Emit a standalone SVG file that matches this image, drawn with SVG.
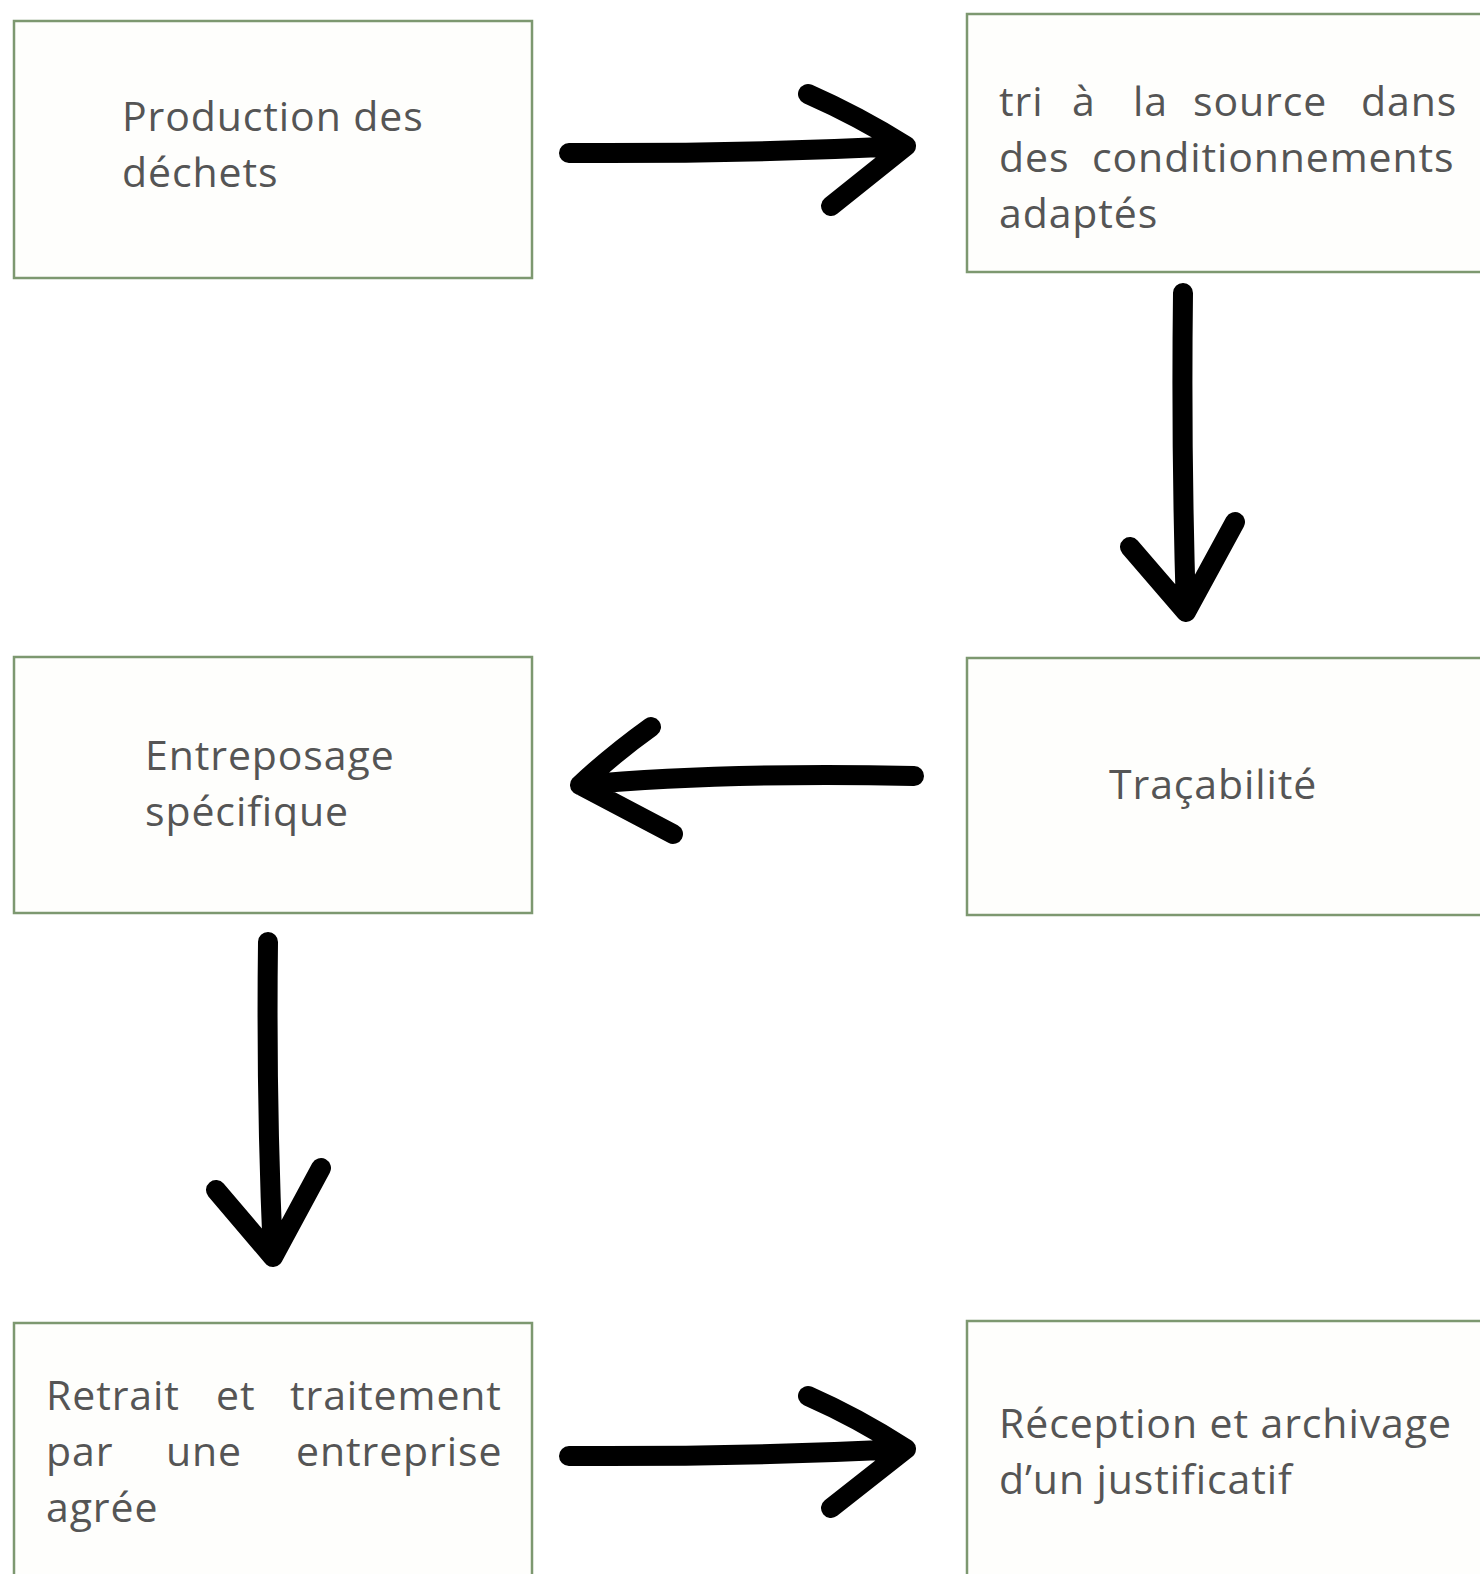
<svg xmlns="http://www.w3.org/2000/svg" width="1480" height="1574" viewBox="0 0 1480 1574">
<style>
.box{fill:#fefefc;stroke:#7d9870;stroke-width:2.5}
.t{font-family:"Open Sans","Noto Sans",sans-serif;font-size:41px;fill:#555555;letter-spacing:0.9px}
.arr{fill:none;stroke:#000;stroke-width:20;stroke-linecap:round;stroke-linejoin:round}
</style>
<rect width="1480" height="1574" fill="#ffffff"/>
<g id="n1">
<rect class="box" x="14" y="21" width="518" height="257"/>
<text class="t"><tspan x="122" y="131">Production des</tspan><tspan x="122" y="187">déchets</tspan></text>
</g>
<g id="n2">
<rect class="box" x="967" y="14" width="520" height="258"/>
<text class="t"><tspan x="999" y="116">tri</tspan><tspan x="1072" y="116">à</tspan><tspan x="1133" y="116">la</tspan><tspan x="1193" y="116">source</tspan><tspan x="1361" y="116">dans</tspan><tspan x="999" y="172">des</tspan><tspan x="1092" y="172">conditionnements</tspan><tspan x="999" y="228">adaptés</tspan></text>
</g>
<g id="n3">
<rect class="box" x="14" y="657" width="518" height="256"/>
<text class="t"><tspan x="145" y="770">Entreposage</tspan><tspan x="145" y="826">spécifique</tspan></text>
</g>
<g id="n4">
<rect class="box" x="967" y="658" width="520" height="257"/>
<text class="t" x="1109" y="799">Traçabilité</text>
</g>
<g id="n5">
<rect class="box" x="14" y="1323" width="518" height="270"/>
<text class="t"><tspan x="46" y="1410">Retrait</tspan><tspan x="216" y="1410">et</tspan><tspan x="290" y="1410">traitement</tspan><tspan x="46" y="1466">par</tspan><tspan x="166" y="1466">une</tspan><tspan x="296" y="1466">entreprise</tspan><tspan x="46" y="1522">agrée</tspan></text>
</g>
<g id="n6">
<rect class="box" x="967" y="1321" width="520" height="270"/>
<text class="t"><tspan x="999" y="1438">Réception et archivage</tspan><tspan x="999" y="1494">d’un justificatif</tspan></text>
</g>
<g id="connectors">
<path class="arr" d="M569,153 Q740,154 906,146 M808,94 Q858,116 906,146 L831,206"/>
<path class="arr" d="M1183,293 Q1181,450 1186,612 M1130,547 L1186,612 L1235,522"/>
<path class="arr" d="M914,776 Q720,772 580,785 M651,727 Q612,755 580,785 L673,834"/>
<path class="arr" d="M268,942 Q266,1100 273,1257 M216,1190 L273,1257 L321,1168"/>
<path class="arr" d="M569,1456 Q740,1457 906,1449 M808,1396 Q858,1418 906,1449 L831,1508"/>
</g>
</svg>
